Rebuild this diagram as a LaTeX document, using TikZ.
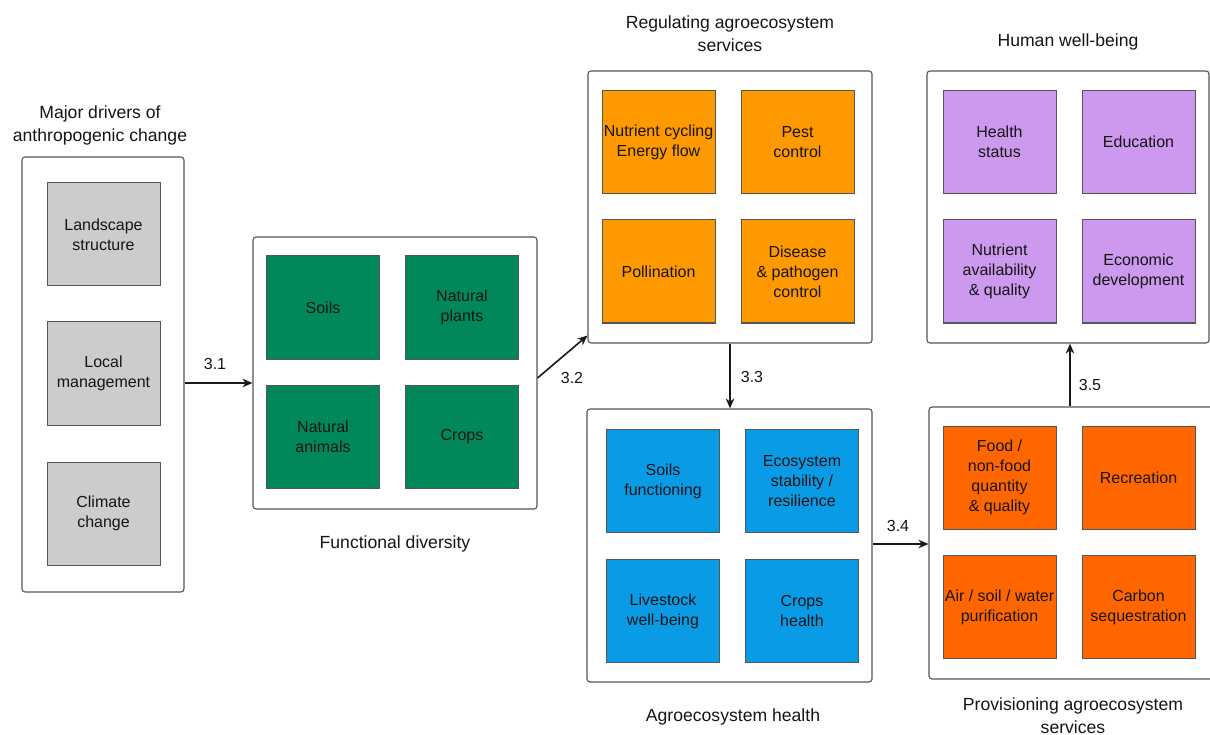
\documentclass[tikz,border=0pt]{standalone}
\usepackage{fontspec}
\setmainfont{Liberation Sans}
\usetikzlibrary{arrows.meta}
\definecolor{txt}{HTML}{151515}
\definecolor{cgray}{HTML}{CCCCCC}
\definecolor{cgreen}{HTML}{00875A}
\definecolor{corange}{HTML}{FF9900}
\definecolor{cblue}{HTML}{0A9BE6}
\definecolor{cred}{HTML}{FF6600}
\definecolor{cpurple}{HTML}{CC99EE}
\definecolor{edge}{HTML}{555555}
\tikzset{
  outerbox/.style={draw=edge, line width=1.1pt, rounded corners=3pt, fill=white, inner sep=0pt},
  item/.style={draw=edge, line width=1pt, minimum width=113pt, minimum height=103pt, inner sep=1pt,
    align=center, font=\fontsize{16}{20}\selectfont, text=txt},
  title/.style={align=center, font=\fontsize{17.6}{22.5}\selectfont, text=txt},
  lbl/.style={font=\fontsize{16}{20}\selectfont, text=txt},
  arr/.style={line width=1.6pt, draw=black!90, -{Stealth[length=10pt,width=8.5pt]}}
}
\begin{document}
\begin{tikzpicture}[x=1pt,y=-1pt]
\useasboundingbox (0,0) rectangle (1210,735);
\clip (0,0) rectangle (1210,735);
% outer boxes
\node[outerbox, minimum width=162pt, minimum height=435pt] (d) at (103,374.5) {};
\node[outerbox, minimum width=284pt, minimum height=272pt] (f) at (395,373) {};
\node[outerbox, minimum width=284pt, minimum height=272pt] (r) at (730,207) {};
\node[outerbox, minimum width=285pt, minimum height=273pt] (h) at (729.5,545.5) {};
\node[outerbox, minimum width=284pt, minimum height=272pt] (p) at (1071,543) {};
\node[outerbox, minimum width=282pt, minimum height=272pt] (w) at (1068,207) {};
% drivers
\node[item, fill=cgray] (d1) at (103.5,234.5) {Landscape\\structure};
\node[item, fill=cgray] (d2) at (103.5,373.5) {Local\\management};
\node[item, fill=cgray] (d3) at (103.5,513.5) {Climate\\change};
% functional diversity
\node[item, fill=cgreen] (f1) at (323,307.5) {Soils};
\node[item, fill=cgreen] (f2) at (462,307.5) {Natural\\plants};
\node[item, fill=cgreen] (f3) at (323,436.5) {Natural\\animals};
\node[item, fill=cgreen] (f4) at (462,436.5) {Crops};
% regulating
\node[item, fill=corange] (r1) at (658.5,142) {Nutrient cycling\\Energy flow};
\node[item, fill=corange] (r2) at (797.5,142) {Pest\\control};
\node[item, fill=corange] (r3) at (658.5,271.5) {Pollination};
\node[item, fill=corange] (r4) at (797.5,271.5) {Disease\\\& pathogen\\control};
% health
\node[item, fill=cblue] (h1) at (663,481) {Soils\\functioning};
\node[item, fill=cblue] (h2) at (802,481) {Ecosystem\\stability /\\resilience};
\node[item, fill=cblue] (h3) at (663,611) {Livestock\\well-being};
\node[item, fill=cblue] (h4) at (802,611) {Crops\\health};
% provisioning
\node[item, fill=cred] (p1) at (999.5,477.5) {Food /\\non-food\\quantity\\\& quality};
\node[item, fill=cred] (p2) at (1138.5,477.5) {Recreation};
\node[item, fill=cred] (p3) at (999.5,607) {Air / soil / water\\purification};
\node[item, fill=cred] (p4) at (1138.5,607) {Carbon\\sequestration};
% human well-being
\node[item, fill=cpurple] (w1) at (999.5,142) {Health\\status};
\node[item, fill=cpurple] (w2) at (1138.5,142) {Education};
\node[item, fill=cpurple] (w3) at (999.5,271.5) {Nutrient\\availability\\\& quality};
\node[item, fill=cpurple] (w4) at (1138.5,271.5) {Economic\\development};
% titles
\node[title] (td) at (100,125.5) {Major drivers of\\anthropogenic change};
\node[title] (tf) at (395,544) {Functional diversity};
\node[title] (tr) at (730,33.5) {Regulating agroecosystem\\services};
\node[title] (th) at (733,717) {Agroecosystem health};
\node[title] (tw) at (1068,42) {Human well-being};
\node[title] (tp) at (1073,715.5) {Provisioning agroecosystem\\services};
% arrows
\draw[arr] (d.east |- 0,383) -- (f.west |- 0,383);
\draw[arr] (f.east |- 0,378) -- ([yshift=8pt]r.south west);
\draw[arr] (r.south) -- (r.south |- h.north);
\draw[arr] (h.east |- 0,544) -- (p.west |- 0,544);
\draw[arr] (p.north -| 1070,0) -- (w.south -| 1070,0);
% labels
\node[lbl] (l1) at (215,364) {3.1};
\node[lbl] (l2) at (572,378) {3.2};
\node[lbl] (l3) at (752,377) {3.3};
\node[lbl] (l4) at (898,526) {3.4};
\node[lbl] (l5) at (1090,385) {3.5};
\end{tikzpicture}
\end{document}
